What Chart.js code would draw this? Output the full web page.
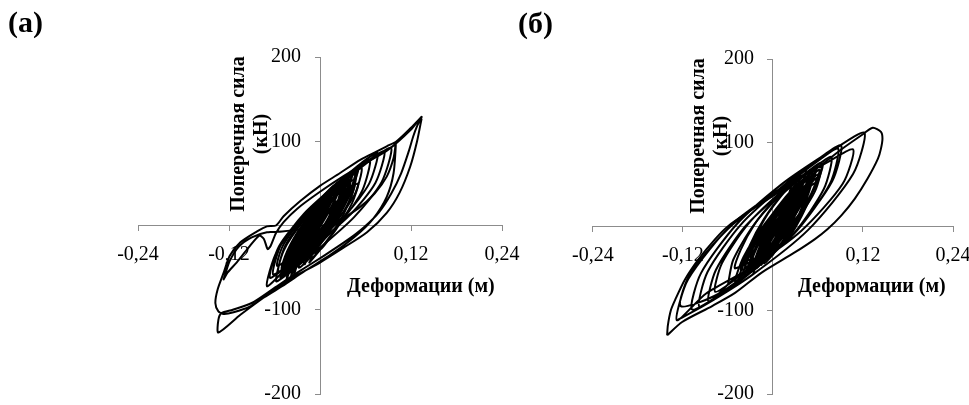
<!DOCTYPE html>
<html><head><meta charset="utf-8">
<script src="https://cdn.jsdelivr.net/npm/chart.js@4.4.1/dist/chart.umd.min.js"></script>
<style>
html,body{margin:0;padding:0;background:#fff;}
body{width:969px;height:405px;overflow:hidden;position:relative;font-family:"Liberation Serif","Times New Roman",serif;}
canvas{position:absolute;top:0;}
#cA{left:0;} #cB{left:560px;}
.t{position:absolute;font-weight:bold;font-size:20px;line-height:24px;color:#000;white-space:nowrap;}
.panel{position:absolute;font-weight:bold;font-size:30px;line-height:30px;color:#000;}
.yt{position:absolute;width:180px;height:46px;font-weight:bold;font-size:20px;line-height:23px;text-align:center;transform:rotate(-90deg);white-space:nowrap;color:#000;}
</style></head>
<body>
<canvas id="cA" width="560" height="416"></canvas>
<canvas id="cB" width="430" height="416"></canvas>
<div class="panel" style="left:8px;top:7px">(а)</div>
<div class="panel" style="left:518px;top:8px">(б)</div>
<div class="t" style="left:347px;top:273px">Деформации (м)</div>
<div class="t" style="left:798px;top:273px">Деформации (м)</div>
<div class="yt" style="left:158.5px;top:111px">Поперечная сила<br>(кН)</div>
<div class="yt" style="left:618.5px;top:112.5px">Поперечная сила<br>(кН)</div>
<script>
const xTicks = [-0.24, -0.12, 0, 0.12, 0.24];
const xTickLabels = ['-0,24', '-0,12', '', '0,12', '0,24'];
const yTicks = [-200, -100, 0, 100, 200];
const yTickLabels = ['-200', '-100', '', '100', '200'];

// Chart (а): deformation (m), shear force (kN) pairs
const coreA = [
[0,0],
[-0.02,-28],[-0.016,-14.8],[-0.006,3.2],[0.008,21.2],[0.02,32],[0.016,18.8],[0.006,0.8],[-0.008,-17.2],
[-0.03,-40],[-0.024,-22],[-0.01,2.6],[0.011,27.2],[0.028,42],[0.022,24],[0.008,-0.6],[-0.013,-25.2],
[-0.038,-48],[-0.031,-26.4],[-0.014,3],[0.011,32.4],[0.032,50],[0.025,28.4],[0.008,-1],[-0.017,-30.4],
[-0.044,-54],[-0.036,-29.8],[-0.016,3.2],[0.012,36.2],[0.036,56],[0.028,31.8],[0.008,-1.2],[-0.02,-34.2],
[-0.034,-44],[-0.027,-21.6],[-0.008,9],[0.018,39.6],[0.04,58],[0.033,35.6],[0.014,5],[-0.012,-25.6],
[-0.046,-50],[-0.038,-28.9],[-0.019,-0.1],[0.007,28.7],[0.03,46],[0.022,24.9],[0.003,-3.9],[-0.023,-32.7],
[-0.026,-36],[-0.02,-16.6],[-0.005,9.8],[0.016,36.2],[0.034,52],[0.028,32.6],[0.013,6.2],[-0.008,-20.2],
[-0.04,-56],[-0.032,-33.1],[-0.013,-1.9],[0.015,29.3],[0.038,48],[0.03,25.1],[0.011,-6.1],[-0.017,-37.3],
[-0.048,-58],[-0.039,-32],[-0.017,3.4],[0.015,38.8],[0.042,60],[0.033,34],[0.011,-1.4],[-0.021,-36.8],
[-0.036,-52],[-0.03,-31.8],[-0.014,-4.2],[0.007,23.4],[0.026,40],[0.02,19.8],[0.004,-7.8],[-0.017,-35.4],
[-0.03,-46],[-0.023,-24],[-0.004,6],[0.022,36],[0.044,54],[0.037,32],[0.018,2],[-0.008,-28],
[-0.042,-46],[-0.034,-22.7],[-0.015,9.1],[0.013,40.9],[0.036,60],[0.028,36.7],[0.009,4.9],[-0.019,-26.9],
[-0.024,-42],[-0.019,-23.1],[-0.005,2.7],[0.014,28.5],[0.03,44],[0.025,25.1],[0.011,-0.7],[-0.008,-26.5],
[-0.05,-52],[-0.043,-30],[-0.024,0],[0.002,30],[0.024,48],[0.017,26],[-0.002,-4],[-0.028,-34],
[-0.034,-58],[-0.026,-35.1],[-0.007,-3.9],[0.021,27.3],[0.044,46],[0.036,23.1],[0.017,-8.1],[-0.011,-39.3],
[-0.016,-34],[-0.011,-14.6],[0.003,11.8],[0.022,38.2],[0.038,54],[0.033,34.6],[0.019,8.2],[0,-18.2],
[-0.044,-44],[-0.037,-22.4],[-0.019,7],[0.006,36.4],[0.028,54],[0.021,32.4],[0.003,3],[-0.022,-26.4],
[-0.038,-60],[-0.03,-35.4],[-0.011,-1.8],[0.017,31.8],[0.04,52],[0.032,27.4],[0.013,-6.2],[-0.015,-39.8],
[-0.028,-50],[-0.022,-26.2],[-0.007,6.2],[0.014,38.6],[0.032,58],[0.026,34.2],[0.011,1.8],[-0.01,-30.6],
[-0.046,-56],[-0.038,-34],[-0.018,-4],[0.01,26],[0.034,44],[0.026,22],[0.006,-8],[-0.022,-38],
[-0.02,-46],[-0.013,-24.9],[0.003,3.9],[0.026,32.7],[0.046,50],[0.039,28.9],[0.023,0.1],[0,-28.7],
[-0.04,-40],[-0.034,-20.2],[-0.018,6.8],[0.003,33.8],[0.022,50],[0.016,30.2],[0,3.2],[-0.021,-23.8],
[-0.052,-62],[-0.042,-34],[-0.02,4],[0.016,42],[0.046,64],[0.038,36],[0.016,-2],[-0.02,-40],
[-0.03,-30],[-0.024,-12],[-0.006,18],[0.026,48],[0.05,66],[0.044,50],[0.024,18],[-0.004,-10],
[-0.056,-48],[-0.05,-26],[-0.032,-2],[-0.004,26],[0.02,40],[0.012,24],[-0.008,-4],[-0.034,-30],
[-0.044,-64],[-0.034,-40],[-0.012,-8],[0.022,28],[0.05,50],[0.042,26],[0.02,-6],[-0.014,-44],
[-0.012,-40],[-0.008,-24],[0.004,-2],[0.02,22],[0.03,36],[0.026,20],[0.014,-2],[-0.002,-24],
[-0.036,-44]
];
const midA = [
[-0.036,-44],
[-0.055,-55],[-0.046,-24.2],[-0.022,6.5],[0.011,36],[0.039,58.2],[0.055,68],[0.046,37.2],[0.022,6.5],[-0.011,-23],[-0.039,-45.2],
[-0.062,-58],[-0.051,-22],[-0.021,14],[0.021,48.6],[0.055,74.5],[0.076,86],[0.065,50],[0.035,14],[-0.007,-20.6],[-0.041,-46.5],
[-0.066,-62],[-0.054,-24.5],[-0.021,13],[0.025,49],[0.062,76],[0.085,88],[0.073,50.5],[0.04,13],[-0.006,-23],[-0.043,-50],
[-0.07,-72],[-0.057,-31],[-0.021,10],[0.028,49.4],[0.069,78.9],[0.094,92],[0.081,51],[0.045,10],[-0.004,-29.4],[-0.045,-58.9],
[-0.058,-66],[-0.048,-30],[-0.021,6],[0.016,40.6],[0.047,66.5],[0.066,78],[0.056,42],[0.029,6],[-0.008,-28.6],[-0.039,-54.5],
[-0.05,-60],[-0.042,-29.5],[-0.021,1],[0.009,30.3],[0.033,52.2],[0.048,62],[0.04,31.5],[0.019,1],[-0.011,-28.3],[-0.035,-50.2],
[-0.05,-60]
];
const outerA = [
[0.134,129],[0.12,116],[0.101,100],[0.088,94],[0.075,88],[0.053,78],[0.026,62],[0,47],[-0.026,29],[-0.048,11],
[-0.058,0],[-0.07,-1],[-0.083,-7],[-0.105,-20],[-0.119,-36],[-0.127,-56],[-0.135,-76],[-0.138,-92],[-0.134,-102],
[-0.127,-105],[-0.114,-103],[-0.092,-96],[-0.075,-86],[-0.05,-72],[-0.02,-54],[0.015,-34],[0.045,-14],[0.07,8],
[0.088,34],[0.097,62],[0.1,98],[0.097,80],[0.088,58],[0.072,38],[0.05,20],[0.02,4],[-0.02,-4],[-0.05,-7],[-0.07,-8],
[-0.09,-14],[-0.107,-25],[-0.119,-42],[-0.125,-58],[-0.127,-64],[-0.122,-56],[-0.11,-44],[-0.094,-26],[-0.08,-12],
[-0.074,-16],[-0.069,-28],[-0.065,-24],[-0.058,-9],[-0.048,4],[-0.03,20],[0,40],[0.03,58],[0.06,74],[0.09,90],
[0.12,114],[0.134,129],[0.128,118],[0.123,106],[0.117,88],[0.107,62],[0.094,38],[0.078,16],[0.058,-2],[0.035,-18],
[0.005,-36],[-0.03,-56],[-0.06,-74],[-0.09,-92],[-0.115,-100],[-0.13,-104],[-0.134,-112],[-0.134,-127],
[-0.105,-106],[-0.075,-86],[-0.04,-64],[0,-44],[0.03,-27],[0.062,-8],[0.088,15],[0.105,39],[0.119,70],[0.128,100],[0.134,127]
];

// Chart (б)
const coreB = [
[0.01,5],
[-0.02,-40],[-0.014,-21.6],[0.001,6],[0.022,33.6],[0.04,52],[0.034,33.6],[0.019,6],[-0.002,-21.6],
[-0.03,-48],[-0.022,-26.4],[-0.002,6],[0.026,38.4],[0.05,60],[0.042,38.4],[0.022,6],[-0.006,-26.4],
[-0.012,-35],[-0.007,-19],[0.005,5],[0.021,29],[0.035,45],[0.03,29],[0.019,5],[0.002,-19],
[-0.035,-55],[-0.026,-30.8],[-0.004,5.5],[0.028,41.8],[0.055,66],[0.046,41.8],[0.024,5.5],[-0.008,-30.8],
[-0.025,-45],[-0.018,-25],[0,5],[0.024,35],[0.045,55],[0.038,35],[0.021,5],[-0.004,-25],
[-0.04,-58],[-0.03,-32.4],[-0.006,6],[0.029,44.4],[0.058,70],[0.048,44.4],[0.024,6],[-0.011,-32.4],
[-0.018,-42],[-0.013,-23.6],[-0.001,4],[0.016,31.6],[0.03,50],[0.025,31.6],[0.013,4],[-0.004,-23.6],
[-0.045,-62],[-0.035,-36.8],[-0.011,1],[0.023,38.8],[0.052,64],[0.042,38.8],[0.018,1],[-0.016,-36.8],
[-0.008,-30],[-0.003,-14.4],[0.009,9],[0.026,32.4],[0.04,48],[0.035,32.4],[0.023,9],[0.006,-14.4],
[-0.028,-52],[-0.019,-29.2],[0.003,5],[0.034,39.2],[0.06,62],[0.051,39.2],[0.029,5],[-0.002,-29.2],
[-0.022,-50],[-0.015,-28.4],[0.003,4],[0.027,36.4],[0.048,58],[0.041,36.4],[0.024,4],[-0.001,-28.4],
[-0.038,-44],[-0.031,-22.8],[-0.012,9],[0.014,40.8],[0.036,62],[0.029,40.8],[0.01,9],[-0.016,-22.8],
[-0.015,-46],[-0.008,-23.6],[0.009,5],[0.032,35.6],[0.052,56],[0.045,33.6],[0.029,5],[0.005,-25.6],
[-0.034,-40],[-0.027,-20.4],[-0.011,9],[0.012,38.4],[0.032,58],[0.025,38.4],[0.009,9],[-0.014,-20.4],
[-0.005,-38],[0,-21.6],[0.013,3],[0.031,27.6],[0.046,44],[0.041,27.6],[0.028,3],[0.01,-21.6],
[-0.042,-52],[-0.033,-28],[-0.012,8],[0.018,44],[0.044,68],[0.035,44],[0.014,8],[-0.016,-28],
[-0.026,-56],[-0.018,-34.4],[0.003,-2],[0.031,30.4],[0.056,52],[0.048,30.4],[0.027,-2],[-0.001,-34.4],
[-0.012,-44],[-0.005,-21.6],[0.014,12],[0.04,45.6],[0.062,68],[0.055,45.6],[0.036,12],[0.01,-21.6],
[-0.036,-48],[-0.028,-27.2],[-0.009,4],[0.017,35.2],[0.04,56],[0.032,35.2],[0.013,4],[-0.013,-27.2],
[-0.02,-36],[-0.015,-20.4],[-0.003,3],[0.014,26.4],[0.028,42],[0.023,26.4],[0.011,3],[-0.006,-20.4],
[-0.05,-66],[-0.039,-36],[-0.01,4],[0.032,48],[0.066,74],[0.055,44],[0.026,4],[-0.016,-40],
[0,-34],[0.006,-16],[0.02,12],[0.04,40],[0.058,58],[0.052,40],[0.038,12],[0.018,-16],
[-0.05,-50],[-0.043,-28],[-0.025,2],[0.002,32],[0.024,50],[0.017,28],[-0.001,-2],[-0.028,-32],
[-0.03,-40]
];
const midB = [
[-0.06,-70],[-0.053,-40],[-0.027,0],[0.005,33],[0.033,54],[0.049,65],[0.042,35],[0.016,-5],[-0.016,-38],[-0.044,-59],
[-0.077,-78],[-0.068,-44],[-0.034,2],[0.008,39],[0.044,64],[0.065,76],[0.056,42],[0.022,-4],[-0.02,-41],[-0.056,-66],
[-0.086,-90],[-0.076,-52],[-0.037,0],[0.012,41],[0.053,69],[0.078,83],[0.068,45],[0.029,-7],[-0.02,-48],[-0.061,-76],
[-0.098,-96],[-0.087,-54],[-0.043,2],[0.013,48],[0.059,78],[0.087,93],[0.076,51],[0.032,-5],[-0.024,-51],[-0.07,-81],
[-0.108,-99],[-0.096,-56],[-0.048,3],[0.011,50],[0.061,81],[0.091,97],[0.079,54],[0.031,-5],[-0.028,-52],[-0.078,-83],
[-0.123,-95],[-0.109,-54],[-0.054,2],[0.015,47],[0.073,77],[0.107,92],[0.093,51],[0.038,-5],[-0.031,-50],[-0.089,-80],
[-0.128,-112],[-0.113,-63],[-0.053,4],[0.022,53],[0.085,94],[0.122,112],[0.107,63],[0.047,-4],[-0.028,-58],[-0.091,-94],
[-0.128,-112]
];
const outerB = [
[-0.141,-130],[-0.14,-118],[-0.136,-100],[-0.13,-87],[-0.117,-63],[-0.099,-39],[-0.077,-15],[-0.059,1],[-0.033,17],
[-0.006,33],[0.029,53],[0.065,74],[0.091,92],[0.118,109],[0.133,118],[0.144,113],[0.146,105],[0.144,93],[0.14,81],
[0.126,57],[0.109,33],[0.091,13],[0.073,-3],[0.056,-15],[0.029,-31],[-0.015,-55],[-0.05,-79],[-0.081,-95],[-0.121,-114],[-0.141,-130]
];

function pts(a){ return a.map(p => ({x: p[0], y: p[1]})); }
const axisColor = '#8c8c8c';
const tickFont = {family: '"Liberation Serif", "Times New Roman", serif', size: 20};
const labelGap = '\u2002\u0020\u2009';

function makeChart(id, paths, pad){
  return new Chart(document.getElementById(id), {
    type: 'scatter',
    data: {datasets: paths.map(p => ({
      data: pts(p), showLine: true, borderColor: '#000', borderWidth: 2,
      pointRadius: 0, pointHoverRadius: 0, tension: 0.25, fill: false
    }))},
    options: {
      responsive: false, animation: false, events: [],
      layout: {padding: pad},
      plugins: {legend: {display: false}, tooltip: {enabled: false}},
      scales: {
        x: {
          type: 'linear', min: -0.24, max: 0.24, position: {y: 0},
          afterBuildTicks: s => { s.ticks = xTicks.map(v => ({value: v})); },
          ticks: {callback: (v, i) => xTickLabels[i], font: tickFont, color: '#000', padding: 12, maxRotation: 0, autoSkip: false},
          grid: {drawOnChartArea: false, drawTicks: true, tickLength: 5, color: axisColor},
          border: {color: axisColor, width: 1}
        },
        y: {
          type: 'linear', min: -200, max: 200, position: {x: 0},
          afterBuildTicks: s => { s.ticks = yTicks.map(v => ({value: v})); },
          ticks: {callback: (v, i) => yTickLabels[i] ? yTickLabels[i] + labelGap : '', font: tickFont, color: '#000', padding: 8, autoSkip: false},
          grid: {drawOnChartArea: false, drawTicks: true, tickLength: 5, color: axisColor},
          border: {color: axisColor, width: 1}
        }
      }
    }
  });
}
makeChart('cA', [coreA, midA, outerA], {left: 138, right: 58, top: 57, bottom: 22});
makeChart('cB', [coreB, midB, outerB], {left: 29, right: 37, top: 59, bottom: 22});
</script>
</body></html>
